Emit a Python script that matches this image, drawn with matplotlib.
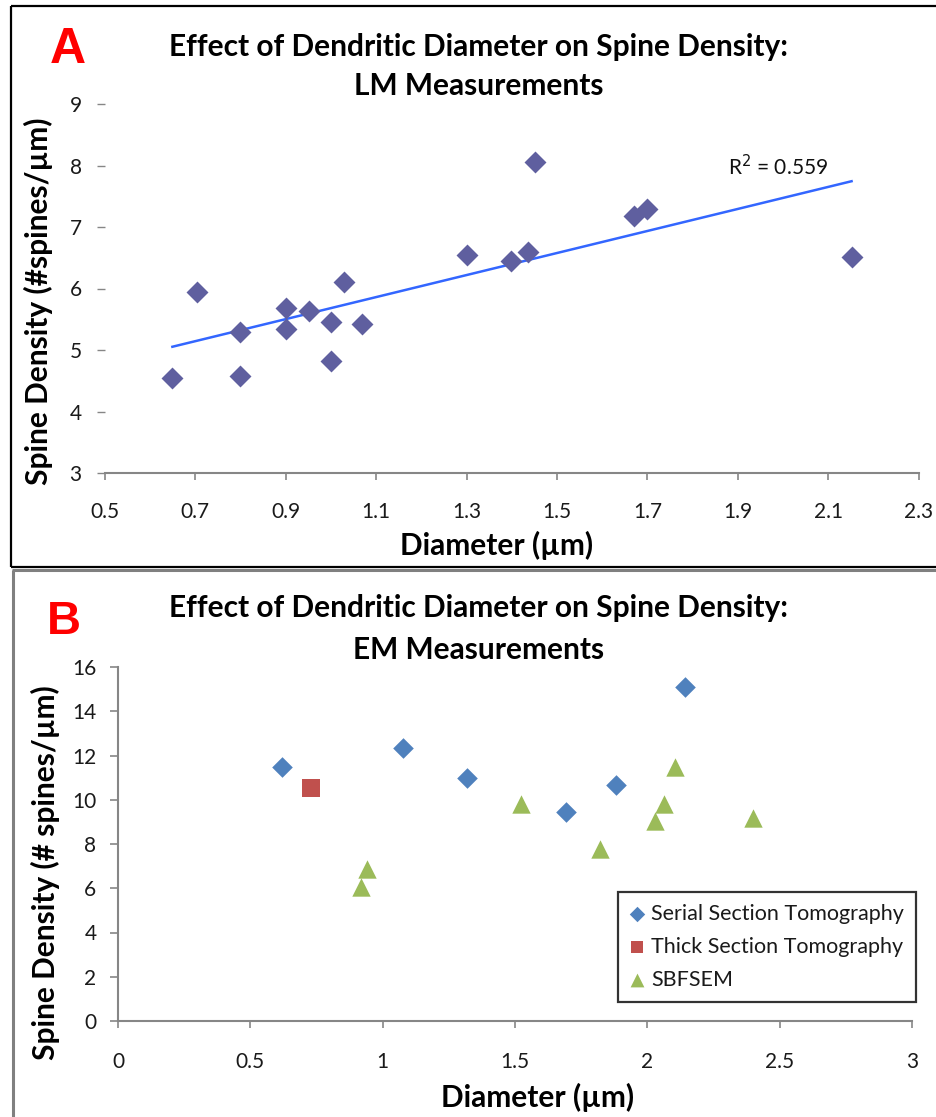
import numpy as np
import matplotlib
matplotlib.use("Agg")
import matplotlib.pyplot as plt
from matplotlib.lines import Line2D

plt.rcParams['font.family'] = ['Lato', 'DejaVu Sans']

# ---- Panel A data (LM measurements)
lm_diam = [0.65, 0.705, 0.80, 0.80, 0.90, 0.90, 0.952, 1.00, 1.00, 1.03, 1.069,
           1.30, 1.399, 1.435, 1.452, 1.67, 1.70, 2.151]
lm_dens = [4.54, 5.95, 5.30, 4.58, 5.69, 5.34, 5.64, 5.45, 4.82, 6.11, 5.42,
           6.55, 6.44, 6.59, 8.05, 7.18, 7.30, 6.52]
lm_r2_label = "R$^2$ = 0.559"
lm_xticks = [0.5, 0.7, 0.9, 1.1, 1.3, 1.5, 1.7, 1.9, 2.1, 2.3]
lm_yticks = [3, 4, 5, 6, 7, 8, 9]

# ---- Panel B data (EM measurements)
sst_diam = [0.619, 1.078, 1.32, 1.693, 1.880, 2.143]
sst_dens = [11.50, 12.33, 10.97, 9.46, 10.67, 15.09]
tst_diam = [0.729]
tst_dens = [10.55]
sbf_diam = [0.917, 0.94, 1.522, 1.822, 2.03, 2.062, 2.105, 2.401]
sbf_dens = [6.07, 6.89, 9.82, 7.79, 9.06, 9.81, 11.47, 9.16]
em_xticks = [0, 0.5, 1, 1.5, 2, 2.5, 3]
em_yticks = [0, 2, 4, 6, 8, 10, 12, 14, 16]

W, H = 937, 1117
fig = plt.figure(figsize=(W / 100, H / 100), dpi=100)
fig.patch.set_facecolor("white")


def fx(px):
    return px / W


def fy(py):
    return 1 - py / H


def add_axes_px(left, top, right, bottom):
    return fig.add_axes([fx(left), fy(bottom), (right - left) / W, (bottom - top) / H])


axis_gray = "#868686"
tick_col = "#1a1a1a"
big = 21.5  # titles / axis labels

# ------------------------------------------------------------ panel A
axA = add_axes_px(104.5, 104, 919, 473)
axA.scatter(lm_diam, lm_dens, marker="D", s=125, color="#5F5F9F", zorder=3, linewidths=0)
coef = np.polyfit(lm_diam, lm_dens, 1)
xs = np.array([min(lm_diam), max(lm_diam)])
axA.plot(xs, np.polyval(coef, xs), color="#3366FF", lw=1.8, zorder=2)
axA.text(1.877, 7.98, lm_r2_label, fontsize=15, color="#111111", va="center", ha="left")
axA.set_xlim(0.5, 2.3)
axA.set_ylim(3, 9)
axA.set_xticks(lm_xticks)
axA.set_xticklabels([f"{v:g}" for v in lm_xticks])
axA.set_yticks(lm_yticks)
for s in ["top", "right", "left"]:
    axA.spines[s].set_visible(False)
axA.spines["bottom"].set_color(axis_gray)
axA.spines["bottom"].set_linewidth(1.5)
axA.tick_params(axis="x", direction="out", length=5, width=1.2, color=axis_gray,
                labelsize=15, labelcolor=tick_col, pad=16)
axA.tick_params(axis="y", direction="out", length=5.5, width=1.0, color=axis_gray,
                labelsize=15, labelcolor=tick_col, pad=11)

fig.text(fx(68), fy(50), "A", color="#FF0000", fontsize=36, fontweight="bold",
         family=["Liberation Sans", "DejaVu Sans"], ha="center", va="center")
fig.text(fx(479), fy(47), "Effect of Dendritic Diameter on Spine Density:",
         fontsize=big, fontweight="bold", ha="center", va="center")
fig.text(fx(479), fy(86), "LM Measurements", fontsize=big, fontweight="bold",
         ha="center", va="center")
fig.text(fx(38), fy(301), "Spine Density (#spines/µm)", fontsize=big, fontweight="bold",
         rotation=90, ha="center", va="center")
fig.text(fx(497), fy(545), "Diameter (µm)", fontsize=big, fontweight="bold",
         ha="center", va="center")

# ------------------------------------------------------------ panel B
axB = add_axes_px(118, 667, 912, 1021)
axB.scatter(sst_diam, sst_dens, marker="D", s=110, color="#4F81BD", linewidths=0,
            zorder=3, label="Serial Section Tomography")
axB.scatter(tst_diam, tst_dens, marker="s", s=150, color="#C0504D", linewidths=0,
            zorder=3, label="Thick Section Tomography")
axB.scatter(sbf_diam, sbf_dens, marker="^", s=175, color="#9BBB59", linewidths=0,
            zorder=3, label="SBFSEM")
axB.set_xlim(0, 3)
axB.set_ylim(0, 16)
axB.set_xticks(em_xticks)
axB.set_xticklabels([f"{v:g}" for v in em_xticks])
axB.set_yticks(em_yticks)
for s in ["top", "right"]:
    axB.spines[s].set_visible(False)
for s in ["left", "bottom"]:
    axB.spines[s].set_color(axis_gray)
    axB.spines[s].set_linewidth(1.5)
axB.tick_params(axis="x", direction="out", length=5, width=1.2, color=axis_gray,
                labelsize=15, labelcolor=tick_col, pad=17)
axB.tick_params(axis="y", direction="out", length=5.5, width=1.2, color=axis_gray,
                labelsize=15, labelcolor=tick_col, pad=10)
leg = axB.legend(loc="upper left", bbox_to_anchor=(fx(618), fy(892)),
                 bbox_transform=fig.transFigure, frameon=True, fancybox=False,
                 edgecolor="black", fontsize=15.5, handlelength=0.7, handletextpad=0.3,
                 labelspacing=0.6, borderpad=0.55, borderaxespad=0, scatterpoints=1,
                 markerscale=0.75)
leg.get_frame().set_linewidth(1.6)
for t in leg.get_texts():
    t.set_color("#1a1a1a")

fig.text(fx(64), fy(622), "B", color="#FF0000", fontsize=34, fontweight="bold",
         family=["Liberation Sans", "DejaVu Sans"], ha="center", va="center")
fig.text(fx(479), fy(608), "Effect of Dendritic Diameter on Spine Density:",
         fontsize=big, fontweight="bold", ha="center", va="center")
fig.text(fx(479), fy(650), "EM Measurements", fontsize=big, fontweight="bold",
         ha="center", va="center")
fig.text(fx(45), fy(873), "Spine Density (# spines/µm)", fontsize=big, fontweight="bold",
         rotation=90, ha="center", va="center")
fig.text(fx(538), fy(1097), "Diameter (µm)", fontsize=big, fontweight="bold",
         ha="center", va="center")

# ------------------------------------------------------------ panel frames
def frame_line(xp, yp, color, lw):
    fig.add_artist(Line2D([fx(v) for v in xp], [fy(v) for v in yp],
                          transform=fig.transFigure, color=color, lw=lw,
                          solid_capstyle="butt"))


frame_line([11, 937], [6, 6], "black", 1.6)
frame_line([11, 11], [6, 567], "black", 1.6)
frame_line([11, 937], [567, 567], "black", 1.6)
frame_line([12, 937], [570, 570], "#808080", 2.2)
frame_line([13, 13], [570, 1117], "#808080", 2.2)

fig.savefig("out.png", dpi=100, facecolor="white")
